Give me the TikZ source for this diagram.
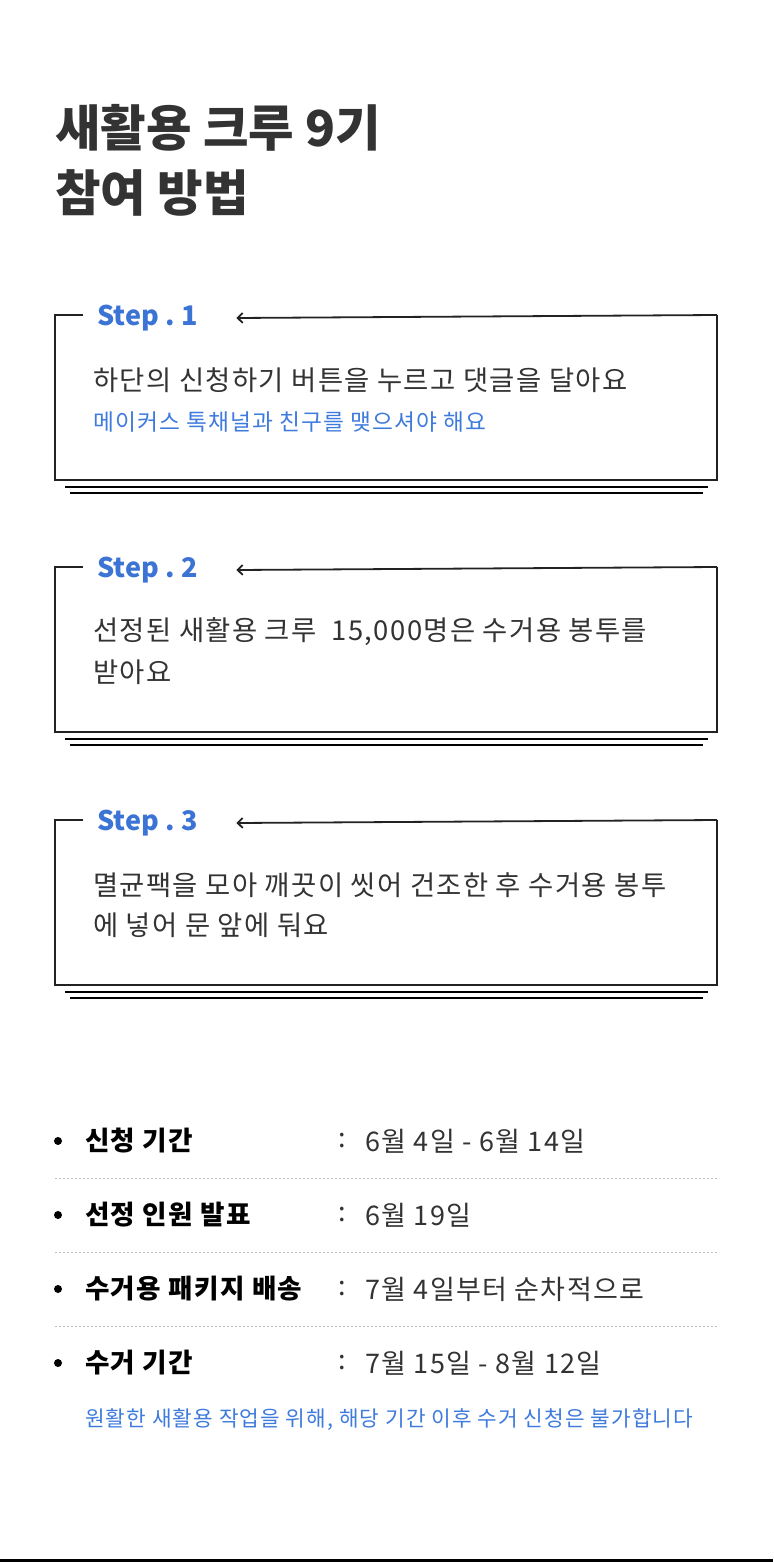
\documentclass[tikz,border=0pt]{standalone}
\usepackage{fontspec}
\setmainfont{Noto Sans CJK KR}
\newfontfamily\krtext{Noto Sans CJK KR}[LetterSpace=5]
\usetikzlibrary{arrows.meta}
\definecolor{ink}{HTML}{333333}
\definecolor{framegray}{HTML}{222222}
\definecolor{stepblue}{HTML}{3B74D4}
\definecolor{noteblue}{HTML}{3E7BDD}
\definecolor{dotgray}{HTML}{BDBDBD}
\tikzset{
  title/.style={anchor=west, inner sep=0pt, text=ink, font=\fontsize{49.5}{58}\selectfont\bfseries},
  steplabel/.style={anchor=west, inner sep=0pt, text=stepblue, font=\fontsize{27}{31}\selectfont\bfseries},
  body/.style={anchor=west, inner sep=0pt, text=ink, font=\krtext\fontsize{27.4}{31}\selectfont},
  sub/.style={anchor=west, inner sep=0pt, text=noteblue, font=\krtext\fontsize{22.7}{26}\selectfont},
  keylabel/.style={anchor=west, inner sep=0pt, text=black, font=\krtext\fontsize{26.6}{30}\selectfont\bfseries},
  value/.style={anchor=west, inner sep=0pt, text=ink, font=\krtext\fontsize{27}{31}\selectfont},
  note/.style={anchor=west, inner sep=0pt, text=noteblue, font=\krtext\fontsize{21.35}{25}\selectfont},
  frame/.style={line width=1.8pt, framegray},
  shadowline/.style={line width=1.8pt, black},
  dotline/.style={line width=1pt, dotgray, dash pattern=on 2pt off 2pt}
}
\begin{document}
\begin{tikzpicture}[x=1pt, y=-1pt]
  \fill[white] (0,0) rectangle (773,1562);
  \useasboundingbox (0,0) rectangle (773,1562);
  % title
  \node[title] (title1) at (55,128) {새활용 크루 9기};
  \node[title] (title2) at (55,193) {참여 방법};
  % step frames
  \foreach \t/\n in {315/1,567/2,820/3}{
    \coordinate (tl\n) at (55,\t);
    \coordinate (tr\n) at (717,\t);
    \coordinate (bl\n) at (55,\t+165);
    \coordinate (br\n) at (717,\t+165);
    \node[steplabel] (step\n) at (97,\t+3) {Step\hspace{0.25em}.\hspace{0.25em}\n};
    \draw[frame] ([xshift=28]tl\n) -- (tl\n) -- (bl\n) -- (br\n) -- (tr\n);
    \draw[frame, -{Straight Barb[length=5pt, width=10pt]}] (tr\n) -- ([xshift=38]step\n.east);
    \draw[shadowline] ([xshift=10, yshift=-7]bl\n) -- ([xshift=-9, yshift=-7]br\n);
    \draw[shadowline] ([xshift=15, yshift=-13]bl\n) -- ([xshift=-14, yshift=-13]br\n);
  }
  % step texts
  \node[body] (s1a) at (93,380) {하단의 신청하기 버튼을 누르고 댓글을 달아요};
  \node[sub] (s1b) at (93,422) {메이커스 톡채널과 친구를 맺으셔야 해요};
  \node[body] (s2a) at (93,632) {선정된 새활용 크루 \ 15,000명은 수거용 봉투를};
  \node[body] (s2b) at (93,672) {받아요};
  \node[body] (s3a) at (93,885) {멸균팩을 모아 깨끗이 씻어 건조한 후 수거용 봉투};
  \node[body] (s3b) at (93,925) {에 넣어 문 앞에 둬요};
  % schedule
  \foreach \y/\k/\v [count=\i] in {1141/신청 기간/6월 4일 - 6월 14일, 1215/선정 인원 발표/6월 19일, 1289/수거용 패키지 배송/7월 4일부터 순차적으로, 1363/수거 기간/7월 15일 - 8월 12일}{
    \fill[black] (58,\y) circle (4);
    \node[keylabel] (key\i) at (85,\y) {\k};
    \node[value] (colon\i) at (338,\y) {:};
    \node[value] (val\i) at (365,\y) {\v};
  }
  \foreach \y in {1178,1252,1326}
    \draw[dotline] (55,\y) -- (717,\y);
  \node[note] (note) at (85,1420) {원활한 새활용 작업을 위해, 해당 기간 이후 수거 신청은 불가합니다};
  % bottom edge
  \draw[line width=3pt, black] (0,1560.5) -- (773,1560.5);
\end{tikzpicture}
\end{document}
